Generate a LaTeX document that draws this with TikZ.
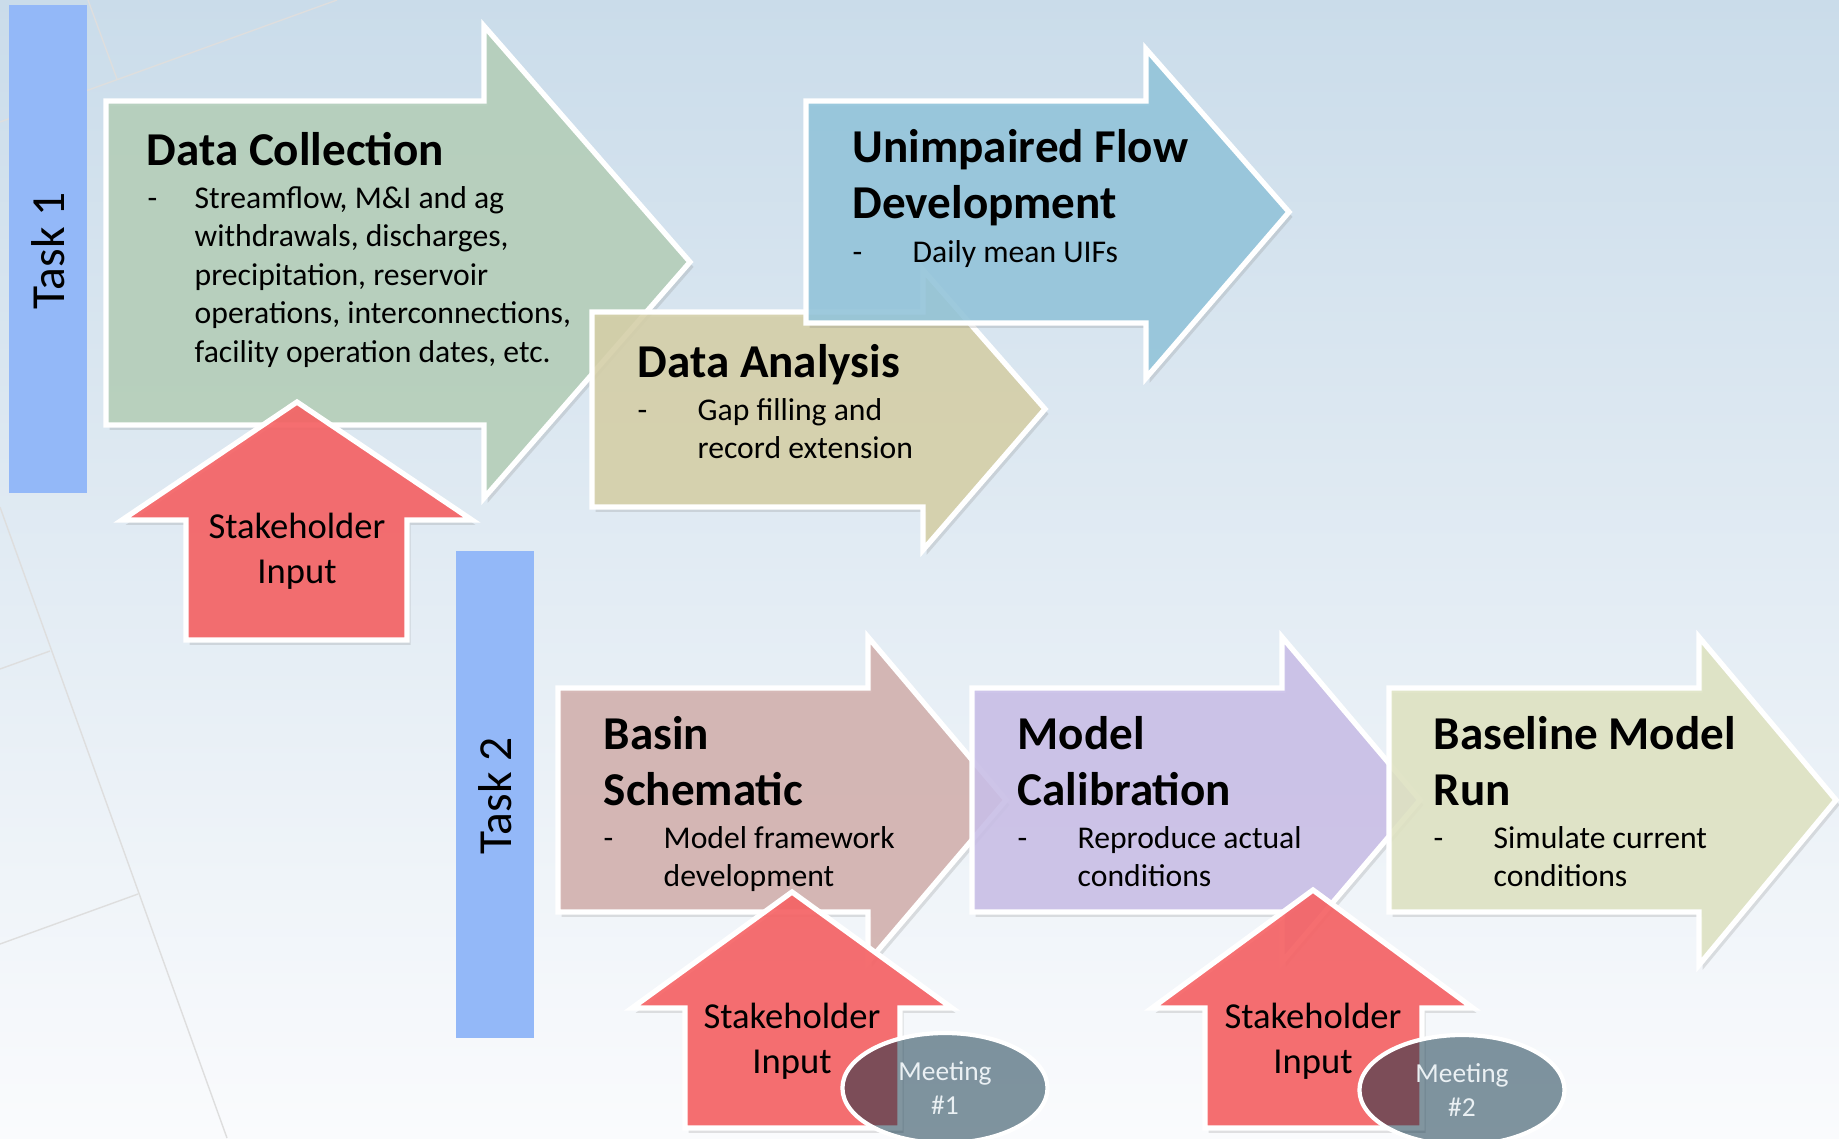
\documentclass[tikz,border=0pt]{standalone}
\usepackage{fontspec}
\setmainfont{Carlito}
\usetikzlibrary{shadows,shapes.geometric}

\definecolor{bgtop}{RGB}{202,220,234}
\definecolor{bgbot}{RGB}{250,251,253}
\definecolor{taskblue}{RGB}{147,184,248}
\definecolor{collgreen}{RGB}{182,208,186}
\definecolor{flowblue}{RGB}{148,198,220}
\definecolor{analysistan}{RGB}{215,209,169}
\definecolor{basinpink}{RGB}{212,178,175}
\definecolor{calibpurple}{RGB}{203,192,233}
\definecolor{baselinegreen}{RGB}{225,229,196}
\definecolor{inputred}{RGB}{247,98,100}
\definecolor{meetdark}{RGB}{5,45,65}
\definecolor{meettext}{RGB}{234,240,243}

\newcommand\lines[1]{\begin{tabular}[t]{@{}l@{}}#1\end{tabular}}
\newcommand\clines[1]{\begin{tabular}[t]{@{}c@{}}#1\end{tabular}}

\tikzset{
  bgline/.style={draw=black!13, line width=0.4pt},
  taskbar/.style={fill=taskblue},
  tasklabel/.style={rotate=90, inner sep=0pt, font=\fontsize{13.5}{16}\selectfont},
  stepshape/.style={draw=white, line width=1.5pt, fill opacity=0.88,
    drop shadow={shadow xshift=1pt, shadow yshift=-1.4pt, opacity=0.22}},
  inputshape/.style={stepshape, fill=inputred, fill opacity=0.9},
  steptitle/.style={anchor=base west, inner sep=0pt, font=\bfseries\fontsize{13.4}{16.1}\selectfont},
  stepbody/.style={anchor=base west, inner sep=0pt, font=\fontsize{9}{10.95}\selectfont},
  inputtext/.style={anchor=base, inner sep=0pt, font=\fontsize{10.4}{12.8}\selectfont},
  meeting/.style={ellipse, draw=white, line width=1.2pt, fill=meetdark, fill opacity=0.5,
    text opacity=1, text=meettext, inner sep=0pt, minimum width=2.05cm, minimum height=1.1cm,
    align=center, font=\fontsize{7.8}{9.4}\selectfont}
}

\begin{document}
\begin{tikzpicture}[x=0.01cm, y=-0.01cm]
  \useasboundingbox (0,0) rectangle (1839,1138);
  \shade[top color=bgtop, bottom color=bgbot] (0,0) rectangle (1839,1138);
  % faint background lines
  \draw[bgline] (0,507) -- (227,1138);
  \draw[bgline] (0,669) -- (50,651);
  \draw[bgline] (0,944) -- (138,894);
  \draw[bgline] (88,0) -- (117,79);
  \draw[bgline] (337,0) -- (0,122);

  % task bars
  \fill[taskbar] (9,5) rectangle (87,493);
  \node[tasklabel] (task1) at (48,251) {Task 1};
  \fill[taskbar] (456,551) rectangle (534,1038);
  \node[tasklabel] (task2) at (495,796) {Task 2};

  % task 1 steps
  \filldraw[stepshape, fill=collgreen] (106,101) -- (484,101) -- (484,26) -- (690,262)
    -- (484,498) -- (484,425) -- (106,425) -- cycle;
  \filldraw[stepshape, fill=analysistan] (592,312) -- (923,312) -- (923,270) -- (1045,409)
    -- (923,550) -- (923,507) -- (592,507) -- cycle;
  \filldraw[stepshape, fill=flowblue] (806,101) -- (1146,101) -- (1146,49) -- (1289,212)
    -- (1146,378) -- (1146,323) -- (806,323) -- cycle;
  \filldraw[inputshape] (297,402) -- (472,520) -- (407,520) -- (407,640) -- (186,640)
    -- (186,520) -- (122,520) -- cycle;

  \node[steptitle] (collection) at (146,165) {Data Collection};
  \node[stepbody] (collectiondash) at (147,208) {-};
  \node[stepbody] (collectiontext) at (194,208) {\lines{Streamflow, M\&I and ag\\
    withdrawals, discharges,\\ precipitation, reservoir\\
    operations, interconnections,\\ facility operation dates, etc.}};
  \node[steptitle] (flow) at (852,162) {\lines{Unimpaired Flow\\ Development}};
  \node[stepbody] (flowdash) at (852,262) {-};
  \node[stepbody] (flowtext) at (912,262) {Daily mean UIFs};
  \node[steptitle] (analysis) at (637,377) {Data Analysis};
  \node[stepbody] (analysisdash) at (637,420) {-};
  \node[stepbody] (analysistext) at (697,420) {\lines{Gap filling and\\ record extension}};
  \node[inputtext] (input1) at (297,538) {\clines{Stakeholder\\ Input}};

  % task 2 steps
  \filldraw[stepshape, fill=basinpink] (558,688) -- (868,688) -- (868,637) -- (1006,800)
    -- (868,962) -- (868,912) -- (558,912) -- cycle;
  \filldraw[stepshape, fill=calibpurple] (972,688) -- (1282,688) -- (1282,637) -- (1420,800)
    -- (1282,962) -- (1282,912) -- (972,912) -- cycle;
  \filldraw[stepshape, fill=baselinegreen] (1389,688) -- (1699,688) -- (1699,637) -- (1836,800)
    -- (1699,965) -- (1699,912) -- (1389,912) -- cycle;
  \filldraw[inputshape] (792,892) -- (952,1008) -- (900,1008) -- (900,1128) -- (685,1128)
    -- (685,1008) -- (632,1008) -- cycle;
  \filldraw[inputshape] (1313,890) -- (1473,1008) -- (1422,1008) -- (1422,1128) -- (1205,1128)
    -- (1205,1008) -- (1152,1008) -- cycle;

  \node[steptitle] (basin) at (603,749) {\lines{Basin\\ Schematic}};
  \node[stepbody] (basindash) at (603,848) {-};
  \node[stepbody] (basintext) at (663,848) {\lines{Model framework\\ development}};
  \node[steptitle] (calib) at (1017,749) {\lines{Model\\ Calibration}};
  \node[stepbody] (calibdash) at (1017,848) {-};
  \node[stepbody] (calibtext) at (1077,848) {\lines{Reproduce actual\\ conditions}};
  \node[steptitle] (baseline) at (1433,749) {\lines{Baseline Model\\ Run}};
  \node[stepbody] (baselinedash) at (1433,848) {-};
  \node[stepbody] (baselinetext) at (1493,848) {\lines{Simulate current\\ conditions}};

  \node[inputtext] (input2) at (792,1028) {\clines{Stakeholder\\ Input}};
  \node[inputtext] (input3) at (1313,1028) {\clines{Stakeholder\\ Input}};
  \node[meeting] (meeting1) at (945,1088) {Meeting\\ \#1};
  \node[meeting] (meeting2) at (1462,1090) {Meeting\\ \#2};
\end{tikzpicture}
\end{document}
